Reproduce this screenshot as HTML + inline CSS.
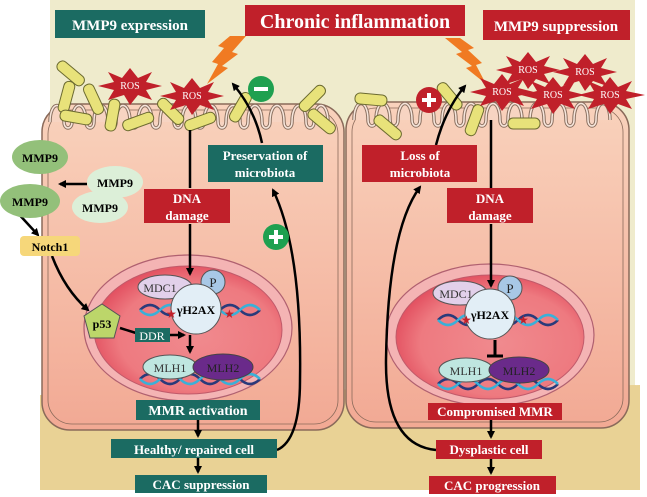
<!DOCTYPE html>
<html><head><meta charset="utf-8"><style>
body{margin:0;background:#fff}
svg{display:block}
text{font-family:"Liberation Serif",serif}
.b{font-weight:bold;fill:#fff}
</style></head><body>
<svg width="647" height="497" viewBox="0 0 647 497" xmlns="http://www.w3.org/2000/svg">
<defs>
<marker id="ar" markerWidth="8" markerHeight="8" refX="6" refY="4" orient="auto" markerUnits="userSpaceOnUse"><path d="M0,0 L8,4 L0,8 z" fill="#000"/></marker>
<linearGradient id="cell" x1="0" y1="0" x2="0" y2="1"><stop offset="0" stop-color="#f9d2bc"/><stop offset="1" stop-color="#f2a994"/></linearGradient>
<radialGradient id="nuc" cx="0.55" cy="0.55" r="0.6"><stop offset="0" stop-color="#f08a8e"/><stop offset="0.7" stop-color="#ee7a80"/><stop offset="1" stop-color="#e0485a"/></radialGradient>
<path id="mvL" d="M50,122 c0,-22 14,-22 14,0 c0,8 8,8 8,0 c0,-22 14,-22 14,0 c0,8 8,8 8,0 c0,-22 14,-22 14,0 c0,8 8,8 8,0 c0,-22 14,-22 14,0 c0,8 8,8 8,0 c0,-22 14,-22 14,0 c0,8 8,8 8,0 c0,-22 14,-22 14,0 c0,8 8,8 8,0 c0,-22 14,-22 14,0 c0,8 8,8 8,0 c0,-22 14,-22 14,0 c0,8 8,8 8,0 c0,-22 14,-22 14,0 c0,8 8,8 8,0 c0,-22 14,-22 14,0 c0,8 8,8 8,0 c0,-22 14,-22 14,0 c0,8 8,8 8,0 c0,-22 14,-22 14,0 c0,8 8,8 8,0 c0,-22 14,-22 14,0"/>
<path id="mvR" d="M354,120 c0,-22 14,-22 14,0 c0,8 8,8 8,0 c0,-22 14,-22 14,0 c0,8 8,8 8,0 c0,-22 14,-22 14,0 c0,8 8,8 8,0 c0,-22 14,-22 14,0 c0,8 8,8 8,0 c0,-22 14,-22 14,0 c0,8 8,8 8,0 c0,-22 14,-22 14,0 c0,8 8,8 8,0 c0,-22 14,-22 14,0 c0,8 8,8 8,0 c0,-22 14,-22 14,0 c0,8 8,8 8,0 c0,-22 14,-22 14,0 c0,8 8,8 8,0 c0,-22 14,-22 14,0 c0,8 8,8 8,0 c0,-22 14,-22 14,0 c0,8 8,8 8,0 c0,-22 14,-22 14,0"/>
</defs>
<rect x="50" y="0" width="585" height="420" fill="#efebcc"/>
<path d="M40,395 L250,392 L400,388 L640,385 L640,490 L40,490 Z" fill="#e9d295"/>
<!-- cells -->
<rect x="42" y="104" width="302" height="326" rx="28" fill="url(#cell)" stroke="#8a6a5a" stroke-width="1.5"/>
<rect x="48" y="110" width="290" height="314" rx="24" fill="none" stroke="#8a6a5a" stroke-width="0.8"/>
<rect x="346" y="102" width="283" height="326" rx="28" fill="url(#cell)" stroke="#8a6a5a" stroke-width="1.5"/>
<rect x="352" y="108" width="271" height="314" rx="24" fill="none" stroke="#8a6a5a" stroke-width="0.8"/>
<!-- microvilli -->
<use href="#mvL" fill="#f7d4c2" stroke="#8a7060" stroke-width="3.5"/>
<use href="#mvL" fill="none" stroke="#f7e6dc" stroke-width="1.5"/>
<use href="#mvR" fill="#f7d4c2" stroke="#8a7060" stroke-width="3.5"/>
<use href="#mvR" fill="none" stroke="#f7e6dc" stroke-width="1.5"/>
<!-- bacteria -->
<g fill="#e8e27a" stroke="#6b6a30" stroke-width="1">
<rect x="55" y="68" width="32" height="11" rx="5" transform="rotate(40 71 73)"/>
<rect x="50" y="92" width="32" height="11" rx="5" transform="rotate(-75 66 97)"/>
<rect x="60" y="112" width="32" height="11" rx="5" transform="rotate(10 76 117)"/>
<rect x="78" y="94" width="32" height="11" rx="5" transform="rotate(65 94 99)"/>
<rect x="96" y="110" width="32" height="11" rx="5" transform="rotate(-80 112 115)"/>
<rect x="122" y="116" width="32" height="11" rx="5" transform="rotate(-20 138 121)"/>
<rect x="155" y="106" width="32" height="11" rx="5" transform="rotate(45 171 111)"/>
<rect x="184" y="116" width="32" height="11" rx="5" transform="rotate(-20 200 121)"/>
<rect x="224" y="102" width="32" height="11" rx="5" transform="rotate(-60 240 107)"/>
<rect x="296" y="93" width="32" height="11" rx="5" transform="rotate(-45 312 98)"/>
<rect x="306" y="116" width="32" height="11" rx="5" transform="rotate(40 322 121)"/>
<rect x="355" y="94" width="32" height="11" rx="5" transform="rotate(5 371 99)"/>
<rect x="372" y="122" width="32" height="11" rx="5" transform="rotate(40 388 127)"/>
<rect x="434" y="91" width="32" height="11" rx="5" transform="rotate(50 450 96)"/>
<rect x="458" y="115" width="32" height="11" rx="5" transform="rotate(-70 474 120)"/>
<rect x="508" y="118" width="32" height="11" rx="5" transform="rotate(0 524 123)"/>
</g>
<!-- lightning -->
<path d="M246,36 L232,52 L238,54 L222,66 L228,68 L207,84 L218,64 L212,62 L224,48 L218,46 L230,36Z" fill="#f07a22"/>
<path d="M445,38 L462,52 L456,54 L472,66 L466,68 L486,84 L476,65 L482,63 L468,50 L474,48 L460,38Z" fill="#f07a22"/>
<!-- ROS -->
<g fill="#c0202a">
<polygon points="130,68 138,78 152,72 146,82 162,86 146,90 152,100 138,95 130,105 124,95 108,100 114,90 98,86 114,82 108,72 122,78"/>
<polygon points="192,78 200,88 214,82 208,92 224,96 208,100 214,110 200,105 192,115 186,105 170,110 176,100 160,96 176,92 170,82 184,88"/>
<polygon points="528,52 536,62 550,56 544,66 560,70 544,74 550,84 536,79 528,89 522,79 506,84 512,74 496,70 512,66 506,56 520,62"/>
<polygon points="585,54 593,64 607,58 601,68 617,72 601,76 607,86 593,81 585,91 579,81 563,86 569,76 553,72 569,68 563,58 577,64"/>
<polygon points="502,74 510,84 524,78 518,88 534,92 518,96 524,106 510,101 502,111 496,101 480,106 486,96 470,92 486,88 480,78 494,84"/>
<polygon points="553,77 561,87 575,81 569,91 585,95 569,99 575,109 561,104 553,114 547,104 531,109 537,99 521,95 537,91 531,81 545,87"/>
<polygon points="610,77 618,87 632,81 626,91 645,95 626,99 632,109 618,104 610,114 604,104 588,109 594,99 578,95 594,91 588,81 602,87"/>
</g>
<g fill="#fff" font-size="10" text-anchor="middle">
<text x="130" y="89">ROS</text><text x="192" y="99">ROS</text>
<text x="528" y="73">ROS</text><text x="585" y="75">ROS</text><text x="502" y="95">ROS</text><text x="553" y="98">ROS</text><text x="610" y="98">ROS</text>
</g>
<!-- title boxes -->
<rect x="55" y="10" width="150" height="28" fill="#1b6b62"/><text x="130" y="30" class="b" font-size="15" text-anchor="middle">MMP9 expression</text>
<rect x="245" y="5" width="220" height="31" fill="#c0202a"/><text x="355" y="28" class="b" font-size="20" text-anchor="middle">Chronic  inflammation</text>
<rect x="483" y="10" width="147" height="30" fill="#c0202a"/><text x="556" y="31" class="b" font-size="15" text-anchor="middle">MMP9 suppression</text>
<!-- nuclei -->
<g>
<ellipse cx="188" cy="328" rx="104" ry="73" fill="#f4b4b4" stroke="#b06070" stroke-width="1.2"/>
<ellipse cx="188" cy="330" rx="94" ry="64" fill="url(#nuc)" stroke="#c05a6a"/>
<ellipse cx="490" cy="335" rx="104" ry="71" fill="#f4b4b4" stroke="#b06070" stroke-width="1.2"/>
<ellipse cx="490" cy="337" rx="94" ry="62" fill="url(#nuc)" stroke="#c05a6a"/>
</g>
<!-- DNA -->
<g fill="none" stroke-width="2.5">
<path d="M140,310 q10,-10 20,0 t20,0 t20,0 t20,0 t20,0 t20,0" stroke="#2a3a7a"/>
<path d="M140,310 q10,10 20,0 t20,0 t20,0 t20,0 t20,0 t20,0" stroke="#3ab0d8"/>
<path d="M140,379 q10,-10 20,0 t20,0 t20,0 t20,0 t20,0 t20,0" stroke="#2a3a7a"/>
<path d="M140,379 q10,10 20,0 t20,0 t20,0 t20,0 t20,0 t20,0" stroke="#3ab0d8"/>
<path d="M438,320 q10,-10 20,0 t20,0 t20,0 t20,0 t20,0 t20,0" stroke="#2a3a7a"/>
<path d="M438,320 q10,10 20,0 t20,0 t20,0 t20,0 t20,0 t20,0" stroke="#3ab0d8"/>
<path d="M438,384 q10,-10 20,0 t20,0 t20,0 t20,0 t20,0 t20,0" stroke="#2a3a7a"/>
<path d="M438,384 q10,10 20,0 t20,0 t20,0 t20,0 t20,0 t20,0" stroke="#3ab0d8"/>
</g>
<!-- left nucleus proteins -->
<ellipse cx="165" cy="287" rx="27" ry="12" fill="#e2d0ea" stroke="#555"/><text x="160" y="292" font-size="12" text-anchor="middle" fill="#333">MDC1</text>
<circle cx="213" cy="282" r="12" fill="#a8c8e6" stroke="#555"/><text x="213" y="287" font-size="13" text-anchor="middle" fill="#222">P</text>
<circle cx="196" cy="309" r="25" fill="#e2eef6" stroke="#555"/><text x="196" y="314" font-size="12" font-weight="bold" text-anchor="middle">γH2AX</text>
<text x="166" y="318" font-size="12" fill="#c0202a">★</text><text x="224" y="318" font-size="12" fill="#c0202a">★</text>
<ellipse cx="170" cy="367" rx="27" ry="12" fill="#bfe6e0" stroke="#555"/><text x="170" y="372" font-size="12" text-anchor="middle" fill="#333">MLH1</text>
<ellipse cx="223" cy="367" rx="30" ry="13" fill="#6a2a8a" stroke="#444"/><text x="223" y="372" font-size="12" text-anchor="middle" fill="#222">MLH2</text>
<!-- right nucleus proteins -->
<ellipse cx="460" cy="293" rx="27" ry="12" fill="#e2d0ea" stroke="#555"/><text x="456" y="298" font-size="12" text-anchor="middle" fill="#333">MDC1</text>
<circle cx="510" cy="288" r="12" fill="#a8c8e6" stroke="#555"/><text x="510" y="293" font-size="13" text-anchor="middle" fill="#222">P</text>
<circle cx="490" cy="314" r="25" fill="#e2eef6" stroke="#555"/><text x="490" y="319" font-size="12" font-weight="bold" text-anchor="middle">γH2AX</text>
<text x="461" y="324" font-size="12" fill="#c0202a">★</text><text x="518" y="324" font-size="12" fill="#c0202a">★</text>
<ellipse cx="466" cy="370" rx="27" ry="12" fill="#bfe6e0" stroke="#555"/><text x="466" y="375" font-size="12" text-anchor="middle" fill="#333">MLH1</text>
<ellipse cx="519" cy="370" rx="30" ry="13" fill="#6a2a8a" stroke="#444"/><text x="519" y="375" font-size="12" text-anchor="middle" fill="#222">MLH2</text>
<!-- inhibition -->
<line x1="495" y1="340" x2="495" y2="355" stroke="#000" stroke-width="3"/><line x1="487" y1="356" x2="503" y2="356" stroke="#000" stroke-width="3"/>
<!-- arrows -->
<g stroke="#000" stroke-width="2.5" fill="none">
<line x1="190" y1="130" x2="190" y2="188"/>
<line x1="190" y1="224" x2="190" y2="274" marker-end="url(#ar)"/>
<line x1="491" y1="120" x2="491" y2="188"/>
<line x1="491" y1="224" x2="491" y2="286" marker-end="url(#ar)"/>
<line x1="190" y1="335" x2="190" y2="352" marker-end="url(#ar)"/>
<line x1="170" y1="335" x2="184" y2="335" marker-end="url(#ar)"/>
<line x1="120" y1="328" x2="136" y2="333"/>
<line x1="198" y1="420" x2="198" y2="436" marker-end="url(#ar)"/>
<line x1="198" y1="458" x2="198" y2="472" marker-end="url(#ar)"/>
<line x1="491" y1="420" x2="491" y2="437" marker-end="url(#ar)"/>
<line x1="491" y1="459" x2="491" y2="473" marker-end="url(#ar)"/>
<path d="M277,450 Q300,440 300,380 Q302,250 273,190" marker-end="url(#ar)"/>
<path d="M262,143 Q255,110 233,84" marker-end="url(#ar)"/>
<path d="M436,450 Q385,445 386,360 Q388,230 420,187" marker-end="url(#ar)"/>
<path d="M436,145 Q445,110 465,86" marker-end="url(#ar)"/>
<line x1="87" y1="184" x2="60" y2="184" marker-end="url(#ar)"/>
<line x1="15" y1="210" x2="38" y2="235" marker-end="url(#ar)"/>
<path d="M52,256 Q65,290 88,310" marker-end="url(#ar)"/>
</g>
<!-- MMP9 -->
<ellipse cx="40" cy="157" rx="28" ry="17" fill="#93c07a"/><text x="40" y="162" font-size="12" font-weight="bold" text-anchor="middle">MMP9</text>
<ellipse cx="100" cy="207" rx="28" ry="16" fill="#dcefd8"/><text x="100" y="212" font-size="12" font-weight="bold" text-anchor="middle">MMP9</text>
<ellipse cx="115" cy="182" rx="28" ry="16" fill="#dcefd8"/><text x="115" y="187" font-size="12" font-weight="bold" text-anchor="middle">MMP9</text>
<ellipse cx="30" cy="201" rx="30" ry="17" fill="#93c07a"/><text x="30" y="206" font-size="12" font-weight="bold" text-anchor="middle">MMP9</text>
<rect x="20" y="236" width="60" height="20" rx="4" fill="#f6d77a"/><text x="50" y="251" font-size="12" font-weight="bold" text-anchor="middle">Notch1</text>
<polygon points="102,304 120,316 114,338 90,338 84,316" fill="#bcd66a" stroke="#555"/><text x="102" y="328" font-size="12" font-weight="bold" text-anchor="middle">p53</text>
<rect x="135" y="328" width="35" height="14" fill="#1b6b62"/><text x="152" y="340" font-size="12" text-anchor="middle" fill="#fff">DDR</text>
<!-- labels -->
<rect x="208" y="145" width="115" height="37" fill="#1b6b62"/><text x="265" y="160" class="b" font-size="13" text-anchor="middle">Preservation  of</text><text x="265" y="177" class="b" font-size="13" text-anchor="middle">microbiota</text>
<rect x="144" y="189" width="86" height="34" fill="#c0202a"/><text x="187" y="203" class="b" font-size="13" text-anchor="middle">DNA</text><text x="187" y="220" class="b" font-size="13" text-anchor="middle">damage</text>
<rect x="447" y="188" width="86" height="35" fill="#c0202a"/><text x="490" y="203" class="b" font-size="13" text-anchor="middle">DNA</text><text x="490" y="220" class="b" font-size="13" text-anchor="middle">damage</text>
<rect x="362" y="145" width="115" height="37" fill="#c0202a"/><text x="420" y="160" class="b" font-size="13" text-anchor="middle">Loss of</text><text x="420" y="177" class="b" font-size="13" text-anchor="middle">microbiota</text>
<rect x="136" y="400" width="124" height="20" fill="#1b6b62"/><text x="198" y="415" class="b" font-size="14" text-anchor="middle">MMR activation</text>
<rect x="111" y="439" width="166" height="19" fill="#1b6b62"/><text x="194" y="454" class="b" font-size="13" text-anchor="middle">Healthy/  repaired  cell</text>
<rect x="135" y="475" width="132" height="18" fill="#1b6b62"/><text x="201" y="489" class="b" font-size="13" text-anchor="middle">CAC suppression</text>
<rect x="428" y="403" width="134" height="17" fill="#c0202a"/><text x="495" y="416" class="b" font-size="13" text-anchor="middle">Compromised  MMR</text>
<rect x="436" y="440" width="106" height="19" fill="#c0202a"/><text x="489" y="454" class="b" font-size="13" text-anchor="middle">Dysplastic cell</text>
<rect x="429" y="476" width="127" height="18" fill="#c0202a"/><text x="492" y="490" class="b" font-size="13" text-anchor="middle">CAC progression</text>
<!-- +/- circles -->
<circle cx="261" cy="89" r="13" fill="#1fa050"/><rect x="254" y="87" width="14" height="4" fill="#fff"/>
<circle cx="276" cy="237" r="13" fill="#1fa050"/><rect x="269" y="235" width="14" height="4" fill="#fff"/><rect x="274" y="230" width="4" height="14" fill="#fff"/>
<circle cx="429" cy="100" r="13" fill="#c0202a"/><rect x="422" y="98" width="14" height="4" fill="#fff"/><rect x="427" y="93" width="4" height="14" fill="#fff"/>
</svg>
</body></html>
